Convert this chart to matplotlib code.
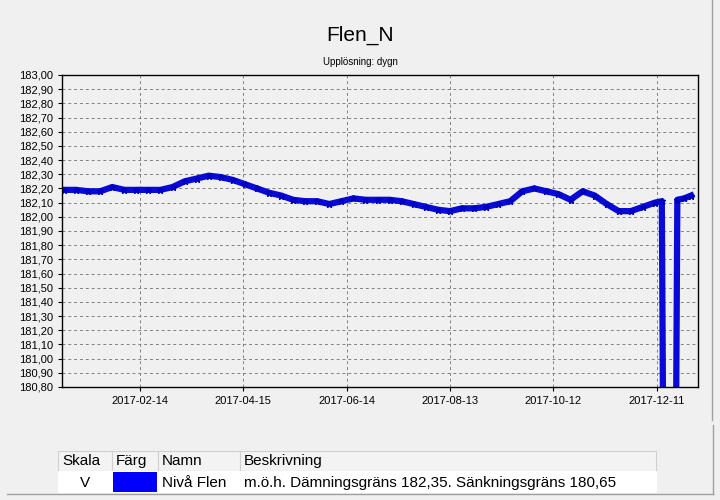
import matplotlib
matplotlib.use("Agg")
import matplotlib.pyplot as plt
import matplotlib.dates as mdates
import matplotlib.ticker as mticker
from matplotlib.patches import Rectangle
import numpy as np
import datetime as dt

plt.rcParams["font.family"] = "Liberation Sans"

title = "Flen_N"
subtitle = "Upplösning: dygn"
dates = ["2017-01-01","2017-01-08","2017-01-15","2017-01-22","2017-01-29","2017-02-05",
         "2017-02-12","2017-02-19","2017-02-26","2017-03-05","2017-03-12","2017-03-19",
         "2017-03-26","2017-04-02","2017-04-09","2017-04-16","2017-04-23","2017-04-30",
         "2017-05-07","2017-05-14","2017-05-21","2017-05-28","2017-06-04","2017-06-11",
         "2017-06-18","2017-06-25","2017-07-02","2017-07-09","2017-07-16","2017-07-23",
         "2017-07-30","2017-08-06","2017-08-13","2017-08-20","2017-08-27","2017-09-03",
         "2017-09-10","2017-09-17","2017-09-24","2017-10-01","2017-10-08","2017-10-15",
         "2017-10-22","2017-10-29","2017-11-05","2017-11-12","2017-11-19","2017-11-26",
         "2017-12-03","2017-12-10","2017-12-14","2017-12-15","2017-12-18","2017-12-21",
         "2017-12-22","2017-12-23","2017-12-27","2017-12-31"]
values = [182.19,182.19,182.18,182.18,182.21,182.19,
          182.19,182.19,182.19,182.21,182.25,182.27,
          182.29,182.28,182.26,182.23,182.20,182.17,
          182.15,182.12,182.11,182.11,182.09,182.11,
          182.13,182.12,182.12,182.12,182.11,182.09,
          182.07,182.05,182.04,182.06,182.06,182.07,
          182.09,182.11,182.18,182.20,182.18,182.16,
          182.12,182.18,182.15,182.09,182.04,182.04,
          182.07,182.10,182.11,180.00,180.00,180.00,
          180.00,182.12,182.13,182.15]
y_ticks = [180.80 + 0.1*i for i in range(23)]
x_ticks = ["2017-02-14","2017-04-15","2017-06-14","2017-08-13","2017-10-12","2017-12-11"]
table_header = ["Skala", "Färg", "Namn", "Beskrivning"]
table_row = ["V", "", "Nivå Flen", "m.ö.h. Dämningsgräns 182,35. Sänkningsgräns 180,65"]

bg = "#f0f0f0"
fig = plt.figure(figsize=(7.2, 5), dpi=100, facecolor=bg)
ax = fig.add_axes([62/720, 1-387/500, 636/720, 312/500], facecolor=bg)

d = [dt.datetime.strptime(s, "%Y-%m-%d") for s in dates]
ax.plot(d, values, color="#0a0ad8", lw=4.5, marker="*", ms=5, mec="#0000c0", clip_on=True)

ax.set_ylim(180.80, 183.00)
ax.set_xlim(dt.datetime(2016, 12, 30, 20), dt.datetime(2018, 1, 4))
ax.set_yticks(y_ticks)
ax.yaxis.set_major_formatter(mticker.FuncFormatter(lambda v, p: f"{v:.2f}".replace(".", ",")))
ax.set_xticks([dt.datetime.strptime(s, "%Y-%m-%d") for s in x_ticks])
ax.set_xticklabels(x_ticks)
ax.tick_params(labelsize=8, length=3, color="black")
ax.grid(True, ls=(0, (3, 3)), color="#808080", lw=0.7)
for s in ax.spines.values():
    s.set_linewidth(1)

fig.text(0.5, 1-35/500, title, ha="center", va="center", fontsize=15)
fig.text(0.5, 1-62/500, subtitle, ha="center", va="center", fontsize=7)

# outer frame line at right
fig.add_artist(plt.Line2D([712/720, 712/720], [1-420/500, 1.0], color="#a0a0a0", lw=1))
fig.add_artist(plt.Line2D([0.01, 713/720], [1-494/500, 1-494/500], color="#a0a0a0", lw=1))
fig.add_artist(plt.Line2D([713/720, 713/720], [1-494/500, 1-425/500], color="#a0a0a0", lw=1))

cols = [58, 112, 158, 240, 656]
def px(x, y):
    return x/720, 1-y/500
for i in range(4):
    x0, x1 = cols[i], cols[i+1]
    fig.add_artist(Rectangle(px(x0, 471), (x1-x0)/720, 20/500, transform=fig.transFigure,
                             facecolor="#f3f3f3", edgecolor="#d0d0d0", lw=0.8))
    fig.add_artist(Rectangle(px(x0, 492), (x1-x0)/720, 21/500, transform=fig.transFigure,
                             facecolor="white", edgecolor="white", lw=0.8))
    fig.text((x0+4)/720, 1-461/500, table_header[i], ha="left", va="center", fontsize=11)
fig.add_artist(Rectangle(px(113, 492), 44/720, 20/500, transform=fig.transFigure,
                         facecolor="#0000ff", edgecolor="none"))
fig.text(85/720, 1-483/500, table_row[0], ha="center", va="center", fontsize=11)
fig.text(162/720, 1-483/500, table_row[2], ha="left", va="center", fontsize=11)
fig.text(244/720, 1-483/500, table_row[3], ha="left", va="center", fontsize=11)

fig.savefig("out.png", dpi=100, facecolor=bg)
